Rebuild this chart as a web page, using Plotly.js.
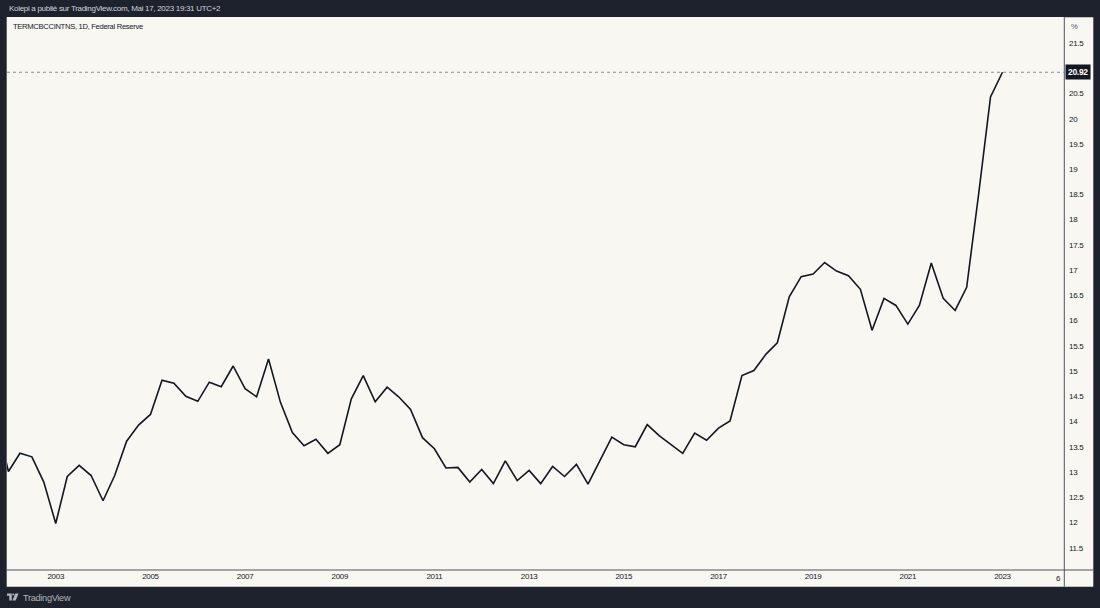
<!DOCTYPE html>
<html><head><meta charset="utf-8">
<script src="https://cdn.plot.ly/plotly-3.0.1.min.js"></script>
<style>
html,body{margin:0;padding:0;background:#1e222d;}
#chart{width:1100px;height:608px;}
svg text{letter-spacing:-0.3px;}
</style>
</head><body><div id="chart"></div>
<script>
// ---- data ----
const startYear = 2001, startMonth = 11;   // first observation (quarterly: Feb, May, Aug, Nov)
const rates = [
  14.0,
  13.01, 13.37, 13.30, 12.80,
  11.98, 12.91, 13.13, 12.93,
  12.43, 12.93, 13.61, 13.93,
  14.14, 14.82, 14.76, 14.50,
  14.40, 14.78, 14.69, 15.10,
  14.65, 14.49, 15.24, 14.38,
  13.78, 13.52, 13.65, 13.37,
  13.54, 14.45, 14.91, 14.39,
  14.68, 14.49, 14.24, 13.68,
  13.46, 13.08, 13.09, 12.80,
  13.05, 12.77, 13.22, 12.83,
  13.03, 12.77, 13.11, 12.91,
  13.15, 12.76, 13.21, 13.69,
  13.54, 13.50, 13.94, 13.72,
  13.54, 13.37, 13.77, 13.63,
  13.87, 14.01, 14.91, 15.01,
  15.33, 15.56, 16.47, 16.87,
  16.92, 17.15, 16.98, 16.89,
  16.62, 15.81, 16.44, 16.30,
  15.93, 16.30, 17.14, 16.44,
  16.20, 16.66, 18.50, 20.43,
  20.92
];
const yTicks = [11.5, 12, 12.5, 13, 13.5, 14, 14.5, 15, 15.5, 16, 16.5, 17, 17.5, 18, 18.5, 19, 19.5, 20, 20.5, 21, 21.5];
const xTickYears = [2003, 2005, 2007, 2009, 2011, 2013, 2015, 2017, 2019, 2021, 2023];
const lastValue = 20.92;
const headerText = "Kolepi a publié sur TradingView.com, Mai 17, 2023 19:31 UTC+2";
const legendText = "TERMCBCCINTNS, 1D, Federal Reserve";

// ---- build ----
function pad(n){ return (n < 10 ? "0" : "") + n; }
const dates = rates.map((_, i) => {
  const m = startMonth - 1 + 3 * i;
  return (startYear + Math.floor(m / 12)) + "-" + pad(m % 12 + 1) + "-01";
});
const xTickVals = xTickYears.map(y => y + "-02-01");
const xTickText = xTickYears.map(String);

const W = 1100, H = 608, L = 7, R = 36, T = 17, B = 38;
const pw = W - L - R, ph = H - T - B;
const px = x => (x - L) / pw;
const py = y => (H - B - y) / ph;

const font = "Liberation Sans, Arial, sans-serif";
const bg = "#f8f7f2", frame = "#1e222d", ink = "#131722";

function pth(pts){ return "M" + pts.map(p => px(p[0]) + "," + py(p[1])).join("L") + "Z"; }

const layout = {
  width: W, height: H,
  margin: {l: L, r: R, t: T, b: B, pad: 0},
  paper_bgcolor: frame, plot_bgcolor: bg,
  showlegend: false,
  xaxis: {
    type: "date", range: ["2002-01-21", "2024-05-21"],
    tickvals: xTickVals, ticktext: xTickText,
    showgrid: false, zeroline: false, showline: false, ticks: "",
    tickfont: {family: font, size: 8, color: ink}, fixedrange: true
  },
  yaxis: {
    side: "right", range: [11.058, 22.015],
    tickvals: yTicks, ticktext: yTicks.map(String),
    showgrid: false, zeroline: false, showline: false, ticks: "",
    ticklabelstandoff: 4,
    tickfont: {family: font, size: 8, color: ink}, fixedrange: true
  },
  shapes: [
    {type: "rect", xref: "paper", yref: "paper", x0: px(6.7), x1: px(1093.3), y0: py(586.7), y1: py(17.3),
     fillcolor: bg, line: {width: 0}, layer: "below"},
    {type: "line", xref: "paper", yref: "paper", x0: px(1064.3), x1: px(1064.3), y0: py(586.7), y1: py(17.3),
     line: {color: "#50535e", width: 1}},
    {type: "line", xref: "paper", yref: "paper", x0: px(6.7), x1: px(1093.3), y0: py(570), y1: py(570),
     line: {color: "#50535e", width: 1}},
    {type: "line", xref: "paper", yref: "y", x0: 0, x1: 1, y0: lastValue, y1: lastValue,
     line: {color: "#8a8d96", width: 1, dash: "dot"}},
    // TradingView logo
    {type: "path", xref: "paper", yref: "paper", path: pth([[7,593.5],[11.8,593.5],[11.8,600.5],[9.3,600.5],[9.3,595.7],[7,595.7]]),
     fillcolor: "#b2b5be", line: {width: 0}},
    {type: "circle", xref: "paper", yref: "paper", x0: px(12.2), x1: px(14.3), y0: py(595.6), y1: py(593.5),
     fillcolor: "#b2b5be", line: {width: 0}},
    {type: "path", xref: "paper", yref: "paper", path: pth([[15.3,593.5],[18.6,593.5],[15.6,600.5],[12.4,600.5]]),
     fillcolor: "#b2b5be", line: {width: 0}}
  ],
  annotations: [
    {xref: "paper", yref: "paper", x: px(7), y: py(9), xanchor: "left", yanchor: "middle", showarrow: false,
     text: headerText, font: {family: font, size: 8, color: "#d1d4dc"}},
    {xref: "paper", yref: "paper", x: px(11), y: py(26), xanchor: "left", yanchor: "middle", showarrow: false,
     text: legendText, font: {family: font, size: 7.6, color: ink}},
    {xref: "paper", yref: "paper", x: px(1069), y: py(26), xanchor: "left", yanchor: "middle", showarrow: false,
     text: "%", font: {family: font, size: 7.6, color: "#50535e"}},
    {xref: "paper", yref: "paper", x: px(1062.5), y: py(578.5), xanchor: "right", yanchor: "middle", showarrow: false,
     text: "6", font: {family: font, size: 8, color: ink}},
    {xref: "paper", yref: "y", x: px(1064.5), y: lastValue, xanchor: "left", yanchor: "middle", showarrow: false,
     text: "<b>" + lastValue.toFixed(2) + "</b>", bgcolor: ink, borderpad: 2,
     font: {family: font, size: 8.5, color: "#ffffff"}},
    {xref: "paper", yref: "paper", x: px(20.5), y: py(597.5), xanchor: "left", yanchor: "middle", showarrow: false,
     text: "TradingView", font: {family: font, size: 9.2, color: "#b2b5be"}}
  ]
};

Plotly.newPlot("chart", [{
  type: "scatter", mode: "lines", x: dates, y: rates,
  line: {color: ink, width: 1.6}, hoverinfo: "skip"
}], layout, {displayModeBar: false, staticPlot: true});
</script>
</body></html>
